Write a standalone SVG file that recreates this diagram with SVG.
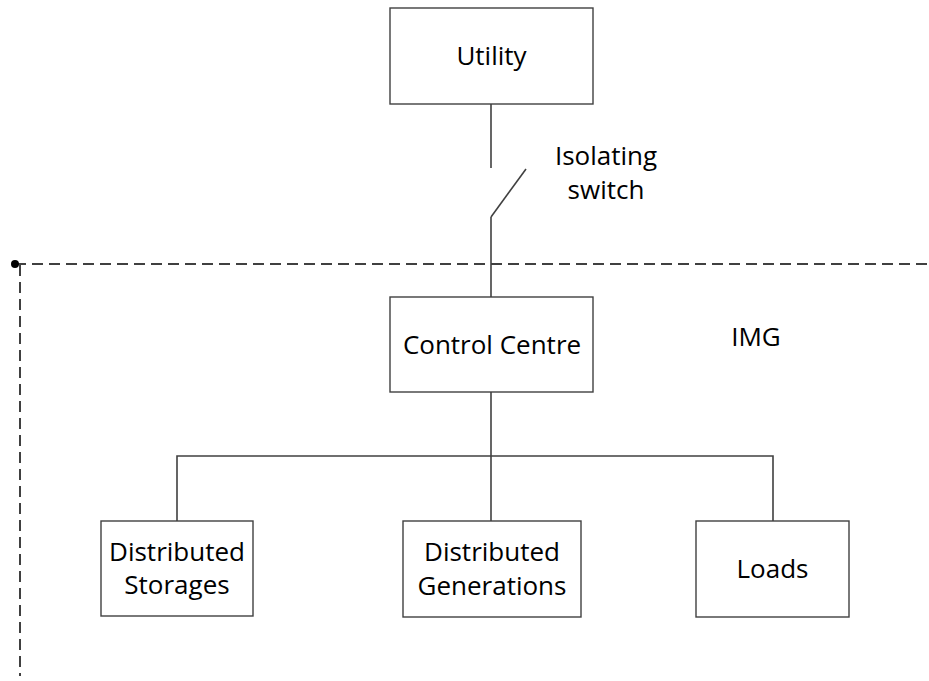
<svg xmlns="http://www.w3.org/2000/svg" width="929" height="681" viewBox="0 0 929 681">
  <style>
    .box { fill: #ffffff; stroke: #404040; stroke-width: 1.4; }
    .wire { fill: none; stroke: #404040; stroke-width: 1.6; }
    .boundary { fill: none; stroke: #404040; stroke-width: 2; stroke-dasharray: 11 6; }
    .label { font-family: "Open Sans", "Liberation Sans", sans-serif; font-size: 26px; fill: #000000; text-anchor: middle; }
  </style>
  <rect width="929" height="681" fill="#ffffff"/>

  <!-- microgrid boundary -->
  <g id="img-boundary">
    <line class="boundary" x1="15" y1="264" x2="929" y2="264"/>
    <line class="boundary" x1="20" y1="265" x2="20" y2="676" stroke-dasharray="10 6"/>
    <circle cx="15" cy="264" r="4" fill="#000000"/>
    <text class="label" x="756" y="346">IMG</text>
  </g>

  <!-- connectors -->
  <g id="connectors">
    <line class="wire" x1="491" y1="104" x2="491" y2="168"/>
    <line class="wire" x1="526" y1="169" x2="491" y2="217"/>
    <line class="wire" x1="491" y1="217" x2="491" y2="297"/>
    <line class="wire" x1="491" y1="392" x2="491" y2="521"/>
    <polyline class="wire" points="177,521 177,456 773,456 773,521"/>
  </g>

  <g id="switch-label">
    <text class="label" x="606" y="165">Isolating</text>
    <text class="label" x="606" y="199">switch</text>
  </g>

  <g id="utility">
    <rect class="box" x="390" y="8" width="203" height="96"/>
    <text class="label" x="491.5" y="65">Utility</text>
  </g>

  <g id="control-centre">
    <rect class="box" x="390" y="297" width="203" height="95"/>
    <text class="label" x="492" y="354">Control Centre</text>
  </g>

  <g id="distributed-storages">
    <rect class="box" x="101" y="521" width="152" height="95"/>
    <text class="label" x="177" y="561">Distributed</text>
    <text class="label" x="177" y="594">Storages</text>
  </g>

  <g id="distributed-generations">
    <rect class="box" x="403" y="521" width="178" height="96"/>
    <text class="label" x="492" y="561">Distributed</text>
    <text class="label" x="492" y="595">Generations</text>
  </g>

  <g id="loads">
    <rect class="box" x="696" y="521" width="153" height="96"/>
    <text class="label" x="772.5" y="578">Loads</text>
  </g>
</svg>
